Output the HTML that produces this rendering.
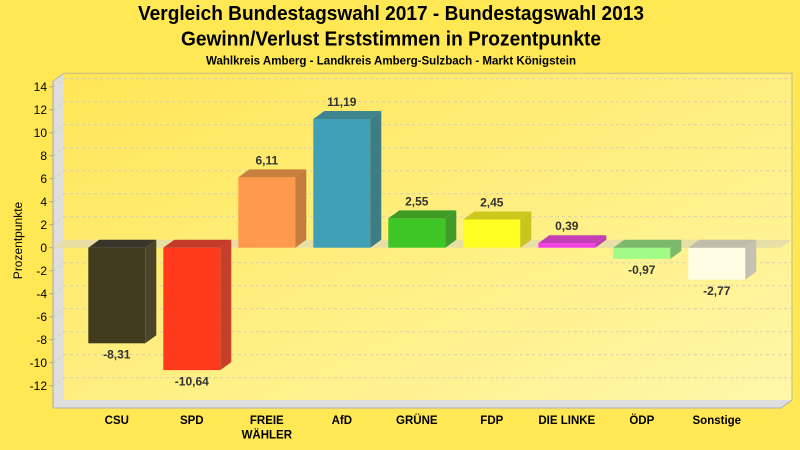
<!DOCTYPE html>
<html><head><meta charset="utf-8"><style>
html,body{margin:0;padding:0;background:#FFE854;}
svg{display:block;}
text{font-family:"Liberation Sans",Arial,sans-serif;}
</style></head><body>
<svg width="800" height="450" viewBox="0 0 800 450" xmlns="http://www.w3.org/2000/svg">
<defs>
<linearGradient id="bg" x1="0" y1="0" x2="1" y2="1">
<stop offset="0" stop-color="#FFE656"/>
<stop offset="1" stop-color="#FFF7AA"/>
</linearGradient>
</defs>
<rect width="800" height="450" fill="#FFE854"/>
<!-- titles -->
<text x="391" y="20" text-anchor="middle" font-size="20" font-weight="bold" fill="#000" textLength="506" lengthAdjust="spacingAndGlyphs">Vergleich Bundestagswahl 2017 - Bundestagswahl 2013</text>
<text x="391" y="45.5" text-anchor="middle" font-size="20" font-weight="bold" fill="#000" textLength="420" lengthAdjust="spacingAndGlyphs">Gewinn/Verlust Erststimmen in Prozentpunkte</text>
<text x="391" y="64.5" text-anchor="middle" font-size="11.5" font-weight="bold" fill="#000" textLength="370" lengthAdjust="spacingAndGlyphs">Wahlkreis Amberg - Landkreis Amberg-Sulzbach - Markt Königstein</text>

<!-- back wall -->
<rect x="64" y="73.3" width="728" height="326.7" fill="url(#bg)"/>
<polyline points="64,73.3 792,73.3 792,400" fill="none" stroke="#C2BA8A" stroke-width="1"/>
<!-- left wall -->
<polygon points="53,81.3 64,73.3 64,400 53,408" fill="#DEDEDE"/>
<!-- floor -->
<polygon points="53,408 64,400 792,400 781,408" fill="#DEDEDE"/>
<polyline points="53,408 781,408 792,400" fill="none" stroke="#B0B0B0" stroke-width="1"/>
<line x1="53" y1="81.3" x2="64" y2="73.3" stroke="#B8B8B8" stroke-width="1"/>

<!-- gridlines -->
<g stroke="#D9D0A8" stroke-width="1" stroke-dasharray="3,3" fill="none">
<line x1="64" y1="78.7" x2="792" y2="78.7"/><line x1="53" y1="86.7" x2="64" y2="78.7"/>
<line x1="64" y1="101.7" x2="792" y2="101.7"/><line x1="53" y1="109.7" x2="64" y2="101.7"/>
<line x1="64" y1="124.7" x2="792" y2="124.7"/><line x1="53" y1="132.7" x2="64" y2="124.7"/>
<line x1="64" y1="147.7" x2="792" y2="147.7"/><line x1="53" y1="155.7" x2="64" y2="147.7"/>
<line x1="64" y1="170.7" x2="792" y2="170.7"/><line x1="53" y1="178.7" x2="64" y2="170.7"/>
<line x1="64" y1="193.7" x2="792" y2="193.7"/><line x1="53" y1="201.7" x2="64" y2="193.7"/>
<line x1="64" y1="216.7" x2="792" y2="216.7"/><line x1="53" y1="224.7" x2="64" y2="216.7"/>
<line x1="64" y1="262.7" x2="792" y2="262.7"/><line x1="53" y1="270.7" x2="64" y2="262.7"/>
<line x1="64" y1="285.7" x2="792" y2="285.7"/><line x1="53" y1="293.7" x2="64" y2="285.7"/>
<line x1="64" y1="308.7" x2="792" y2="308.7"/><line x1="53" y1="316.7" x2="64" y2="308.7"/>
<line x1="64" y1="331.7" x2="792" y2="331.7"/><line x1="53" y1="339.7" x2="64" y2="331.7"/>
<line x1="64" y1="354.7" x2="792" y2="354.7"/><line x1="53" y1="362.7" x2="64" y2="354.7"/>
<line x1="64" y1="377.7" x2="792" y2="377.7"/><line x1="53" y1="385.7" x2="64" y2="377.7"/>
</g>
<!-- zero plane -->
<polygon points="53,247.7 64,239.7 792,239.7 781,247.7" fill="#E6DDA8" opacity="0.9"/>

<!-- axis -->
<line x1="53" y1="81.3" x2="53" y2="408" stroke="#A8A8A8" stroke-width="1"/>
<g stroke="#A8A8A8" stroke-width="1">
<line x1="49" y1="86.7" x2="53" y2="86.7"/><line x1="49" y1="109.7" x2="53" y2="109.7"/>
<line x1="49" y1="132.7" x2="53" y2="132.7"/><line x1="49" y1="155.7" x2="53" y2="155.7"/>
<line x1="49" y1="178.7" x2="53" y2="178.7"/><line x1="49" y1="201.7" x2="53" y2="201.7"/>
<line x1="49" y1="224.7" x2="53" y2="224.7"/><line x1="49" y1="247.7" x2="53" y2="247.7"/>
<line x1="49" y1="270.7" x2="53" y2="270.7"/><line x1="49" y1="293.7" x2="53" y2="293.7"/>
<line x1="49" y1="316.7" x2="53" y2="316.7"/><line x1="49" y1="339.7" x2="53" y2="339.7"/>
<line x1="49" y1="362.7" x2="53" y2="362.7"/><line x1="49" y1="385.7" x2="53" y2="385.7"/>
</g>
<g font-size="12" fill="#000" text-anchor="end">
<text x="47" y="91">14</text><text x="47" y="114">12</text><text x="47" y="137">10</text>
<text x="47" y="160">8</text><text x="47" y="183">6</text><text x="47" y="206">4</text>
<text x="47" y="229">2</text><text x="47" y="252">0</text><text x="47" y="275">-2</text>
<text x="47" y="298">-4</text><text x="47" y="321">-6</text><text x="47" y="344">-8</text>
<text x="47" y="367">-10</text><text x="47" y="390">-12</text>
</g>
<text transform="translate(22,240.5) rotate(-90)" text-anchor="middle" font-size="12" fill="#000">Prozentpunkte</text>

<!-- bars -->
<!-- CSU -8.31: xl=88.3 yb=343.3 -->
<rect x="88.3" y="247.7" width="57" height="95.6" fill="#403A1E"/>
<polygon points="88.3,247.7 99.3,239.7 156.3,239.7 145.3,247.7" fill="#37352A"/>
<polygon points="145.3,247.7 156.3,239.7 156.3,335.3 145.3,343.3" fill="#4A4529"/>
<!-- SPD -10.64: xl=163.3 yb=370.1 -->
<rect x="163.3" y="247.7" width="57" height="122.4" fill="#FF3A1C"/>
<polygon points="163.3,247.7 174.3,239.7 231.3,239.7 220.3,247.7" fill="#C43A28"/>
<polygon points="220.3,247.7 231.3,239.7 231.3,362.1 220.3,370.1" fill="#C4402A"/>
<!-- FREIE 6.11: xl=238.3 yt=177.4 -->
<rect x="238.3" y="177.4" width="57" height="70.3" fill="#FF9A4C"/>
<polygon points="238.3,177.4 249.3,169.4 306.3,169.4 295.3,177.4" fill="#C8803E"/>
<polygon points="295.3,177.4 306.3,169.4 306.3,239.7 295.3,247.7" fill="#C47C3E"/>
<!-- AfD 11.19: xl=313.3 yt=119.0 -->
<rect x="313.3" y="119" width="57" height="128.7" fill="#3FA0B6"/>
<polygon points="313.3,119 324.3,111 381.3,111 370.3,119" fill="#3F8590"/>
<polygon points="370.3,119 381.3,111 381.3,239.7 370.3,247.7" fill="#3E7D86"/>
<!-- GRÜNE 2.55: xl=388.3 yt=218.4 -->
<rect x="388.3" y="218.4" width="57" height="29.3" fill="#3EC626"/>
<polygon points="388.3,218.4 399.3,210.4 456.3,210.4 445.3,218.4" fill="#3E9C26"/>
<polygon points="445.3,218.4 456.3,210.4 456.3,239.7 445.3,247.7" fill="#3F9A28"/>
<!-- FDP 2.45: xl=463.3 yt=219.5 -->
<rect x="463.3" y="219.5" width="57" height="28.2" fill="#FFFF22"/>
<polygon points="463.3,219.5 474.3,211.5 531.3,211.5 520.3,219.5" fill="#CCC81C"/>
<polygon points="520.3,219.5 531.3,211.5 531.3,239.7 520.3,247.7" fill="#C8C420"/>
<!-- DIE LINKE 0.39: xl=538.3 yt=243.2 -->
<rect x="538.3" y="243.2" width="57" height="4.5" fill="#F23FE6"/>
<polygon points="538.3,243.2 549.3,235.2 606.3,235.2 595.3,243.2" fill="#C43FB4"/>
<polygon points="595.3,243.2 606.3,235.2 606.3,239.7 595.3,247.7" fill="#C040B0"/>
<!-- ÖDP -0.97: xl=613.3 yb=258.9 -->
<rect x="613.3" y="247.7" width="57" height="11.2" fill="#A0FC86"/>
<polygon points="613.3,247.7 624.3,239.7 681.3,239.7 670.3,247.7" fill="#7CB96C"/>
<polygon points="670.3,247.7 681.3,239.7 681.3,250.9 670.3,258.9" fill="#7BB86C"/>
<!-- Sonstige -2.77: xl=688.3 yb=279.6 -->
<rect x="688.3" y="247.7" width="57" height="31.9" fill="#FFFDE4"/>
<polygon points="688.3,247.7 699.3,239.7 756.3,239.7 745.3,247.7" fill="#C0BDAB"/>
<polygon points="745.3,247.7 756.3,239.7 756.3,271.6 745.3,279.6" fill="#C4C2B0"/>

<!-- value labels -->
<g font-size="12" font-weight="bold" fill="#333" text-anchor="middle">
<text x="116.8" y="358.5">-8,31</text>
<text x="191.8" y="385.3">-10,64</text>
<text x="266.8" y="164.5">6,11</text>
<text x="341.8" y="106">11,19</text>
<text x="416.8" y="205.5">2,55</text>
<text x="491.8" y="206.5">2,45</text>
<text x="566.8" y="230.2">0,39</text>
<text x="641.8" y="274">-0,97</text>
<text x="716.8" y="294.8">-2,77</text>
</g>
<!-- category labels -->
<g font-size="11.5" font-weight="bold" fill="#000" text-anchor="middle">
<text x="116.8" y="424">CSU</text>
<text x="191.8" y="424">SPD</text>
<text x="266.8" y="424">FREIE</text>
<text x="266.8" y="438.3">WÄHLER</text>
<text x="341.8" y="424">AfD</text>
<text x="416.8" y="424">GRÜNE</text>
<text x="491.8" y="424">FDP</text>
<text x="566.8" y="424">DIE LINKE</text>
<text x="641.8" y="424">ÖDP</text>
<text x="716.8" y="424">Sonstige</text>
</g>
</svg>
</body></html>
